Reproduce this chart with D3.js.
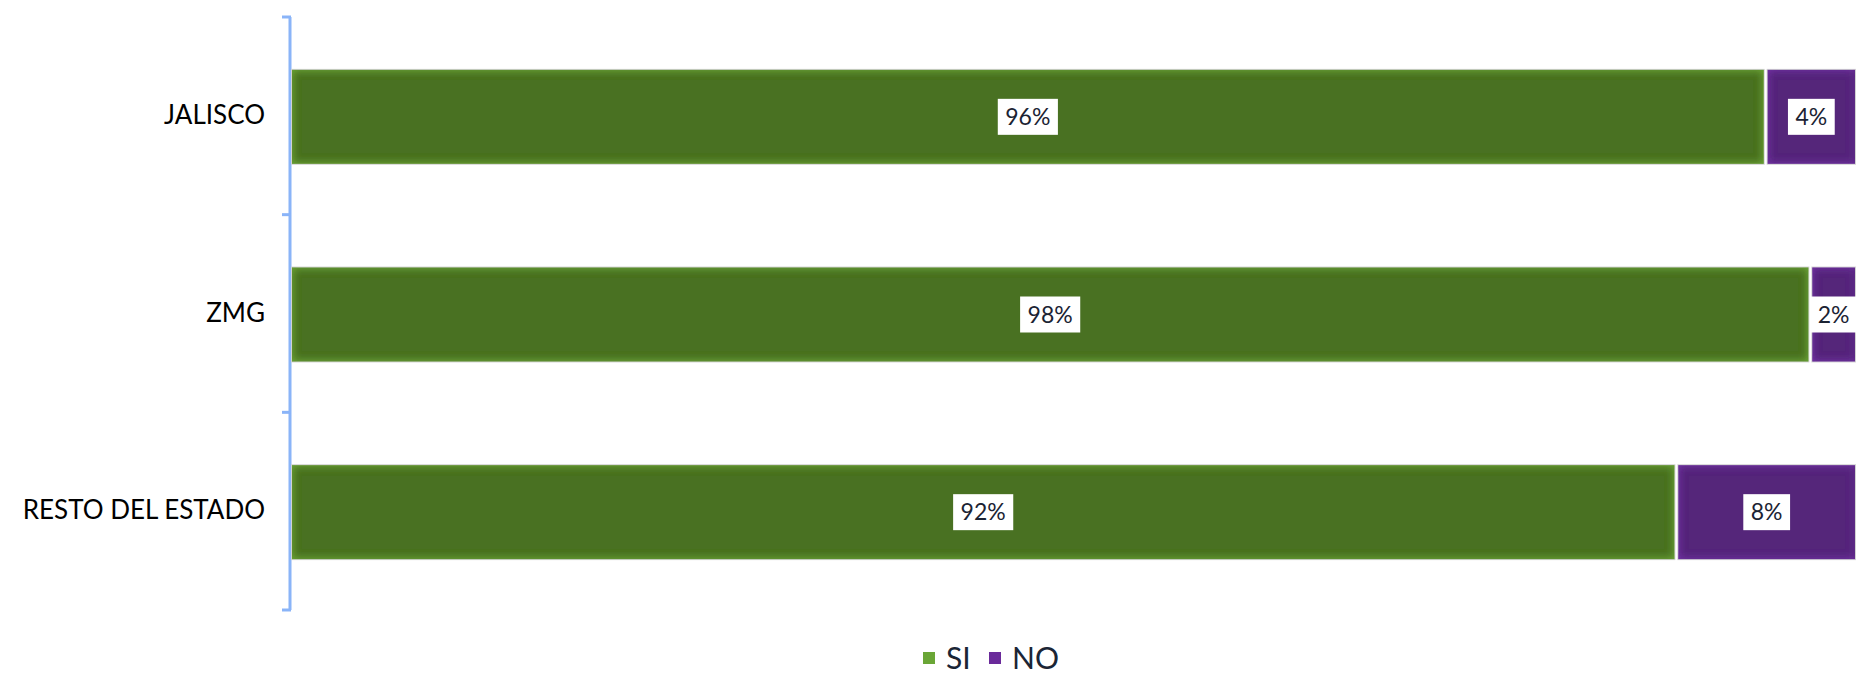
<!DOCTYPE html>
<html>
<head>
<meta charset="utf-8">
<script src="https://cdn.jsdelivr.net/npm/d3@7"></script>
<style>
  body { margin: 0; background: #fff; }
  text { font-family: Lato, "Open Sans", sans-serif; }
</style>
</head>
<body>
<script>
// chart data
var categories = ["JALISCO", "ZMG", "RESTO DEL ESTADO"];
var siValues = [96, 98, 92];
var noValues = [4, 2, 8];
var seriesNames = ["SI", "NO"];

var width = 1857,
    height = 677;

var svg = d3.select("body")
    .append("svg")
    .attr("width", width)
    .attr("height", height);

// inner glow filters for the bars
var defs = svg.append("defs");
function glow(id, color) {
    var f = defs.append("filter")
        .attr("id", id)
        .attr("filterUnits", "userSpaceOnUse")
        .attr("x", 0).attr("y", 0)
        .attr("width", width).attr("height", height);
    f.append("feFlood").attr("flood-color", color).attr("result", "c");
    f.append("feComposite").attr("in", "c").attr("in2", "SourceAlpha")
        .attr("operator", "out").attr("result", "inv");
    f.append("feGaussianBlur").attr("in", "inv").attr("stdDeviation", 4).attr("result", "b");
    f.append("feComposite").attr("in", "b").attr("in2", "SourceAlpha")
        .attr("operator", "in").attr("result", "inner");
    var m = f.append("feMerge");
    m.append("feMergeNode").attr("in", "SourceGraphic");
    m.append("feMergeNode").attr("in", "inner");
}
glow("glowSI", "#70ab3b");
glow("glowNO", "#7536a8");

var fills = { SI: "#4a7120", NO: "#55267a" };
var legendColors = { SI: "#6aa636", NO: "#6a2a9a" };

// scales
var x = d3.scaleLinear()
    .domain([30, 100])
    .range([292, 1855])
    .clamp(true);

var y = d3.scaleBand()
    .domain(categories)
    .range([17, 610])
    .padding(0);

var barH = y.bandwidth() * 0.475;

// category axis labels
var yAxis = d3.axisLeft(y).tickSize(0).tickPadding(25);
var gAxis = svg.append("g")
    .attr("transform", "translate(290,0)")
    .call(yAxis);
gAxis.select(".domain").remove();
gAxis.selectAll("text")
    .attr("font-size", 26)
    .attr("fill", "#000")
    .style("font-family", "Lato, 'Open Sans', sans-serif");

// bracket-like axis line with ticks at band boundaries
var bounds = categories.map(function(c) { return y(c); }).concat([y.range()[1]]);
svg.append("line")
    .attr("x1", 290).attr("x2", 290)
    .attr("y1", bounds[0]).attr("y2", bounds[bounds.length - 1])
    .attr("stroke", "#8ab4f8").attr("stroke-width", 3);
svg.selectAll(".btick")
    .data(bounds)
    .enter()
    .append("line")
    .attr("class", "btick")
    .attr("x1", 282).attr("x2", 291)
    .attr("y1", function(d) { return d; })
    .attr("y2", function(d) { return d; })
    .attr("stroke", "#8ab4f8").attr("stroke-width", 3);

// stacked segments
var rows = categories.map(function(c, i) {
    return [
        { cat: c, key: "SI", start: 0, end: siValues[i], value: siValues[i] },
        { cat: c, key: "NO", start: siValues[i], end: siValues[i] + noValues[i], value: noValues[i] }
    ];
});
var segs = [].concat.apply([], rows);

function segX0(d) { return x(d.start) + (d.start > 0 ? 2 : 0); }
function segX1(d) { return x(d.end) - (d.end < 100 ? 2 : 0); }
function segY(d) { return y(d.cat) + (y.bandwidth() - barH) / 2 + 1; }

var bars = svg.append("g");
bars.selectAll(".outline")
    .data(segs)
    .enter()
    .append("rect")
    .attr("x", function(d) { return segX0(d) - 0.5; })
    .attr("y", function(d) { return segY(d) - 0.5; })
    .attr("width", function(d) { return segX1(d) - segX0(d) + 1; })
    .attr("height", barH + 1)
    .attr("fill", "none")
    .attr("stroke", "#d2d2d2")
    .attr("stroke-width", 1);

bars.selectAll(".seg")
    .data(segs)
    .enter()
    .append("rect")
    .attr("class", "seg")
    .attr("x", segX0)
    .attr("y", segY)
    .attr("width", function(d) { return segX1(d) - segX0(d); })
    .attr("height", barH)
    .attr("fill", function(d) { return fills[d.key]; })
    .attr("filter", function(d) { return "url(#glow" + d.key + ")"; });

// value labels with white boxes
var labels = svg.append("g");
segs.forEach(function(d) {
    var cx = (segX0(d) + segX1(d)) / 2,
        cy = segY(d) + barH / 2;
    var g = labels.append("g");
    var box = g.append("rect").attr("fill", "#fff");
    var t = g.append("text")
        .attr("x", cx)
        .attr("y", cy)
        .attr("dy", "0.36em")
        .attr("text-anchor", "middle")
        .attr("font-size", 23)
        .attr("fill", "#1b2333")
        .text(d.value + "%");
    var bb = t.node().getBBox();
    var bw = bb.width + 15;
    box.attr("x", cx - bw / 2)
        .attr("y", cy - 18)
        .attr("width", bw)
        .attr("height", 36);
});

// legend
var legend = svg.append("g");
var legendX = [923, 989];
seriesNames.forEach(function(s, i) {
    legend.append("rect")
        .attr("x", legendX[i])
        .attr("y", 652)
        .attr("width", 12)
        .attr("height", 12)
        .attr("fill", legendColors[s]);
    legend.append("text")
        .attr("x", legendX[i] + 23)
        .attr("y", 669)
        .attr("font-size", 30)
        .attr("fill", "#1b2535")
        .text(s);
});
</script>
</body>
</html>
